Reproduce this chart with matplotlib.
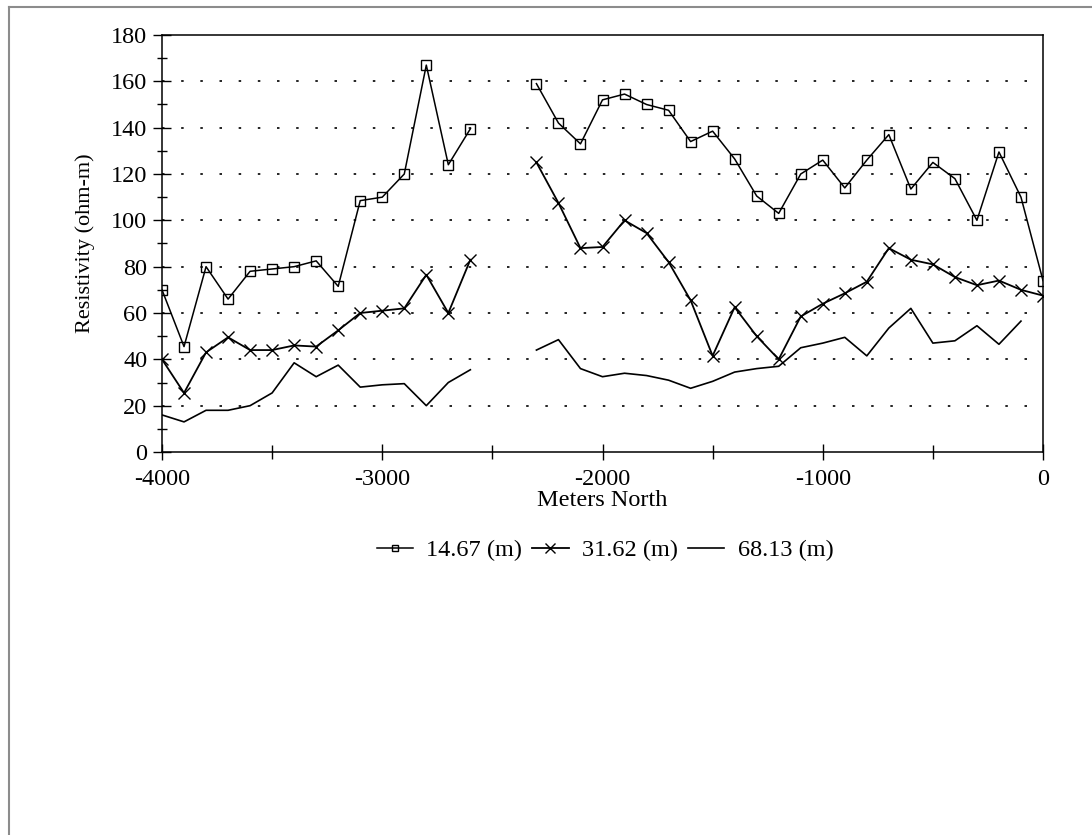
import numpy as np
import matplotlib.pyplot as plt
from matplotlib.lines import Line2D

# Meters North, every 100 m (no data at -2500 and -2400)
north = np.arange(-4000, 1, 100)

nan = np.nan
# 14.67 (m)
res_14 = [70, 45.5, 80, 66, 78, 79, 80, 82.5, 71.5, 108.5, 110, 120, 167, 124, 139.5,
          nan, nan,
          159, 142, 133, 152, 154.5, 150, 147.5, 134, 138.5, 126.5, 110.5, 103, 120, 126,
          114, 126, 137, 113.5, 125, 118, 100, 129.5, 110, 74]
# 31.62 (m)
res_31 = [40, 25.5, 43, 49.5, 44, 44, 46, 45.5, 52.5, 60, 61, 62, 76.5, 60, 83,
          nan, nan,
          125, 107.5, 88, 88.5, 100, 94.5, 82, 65.5, 41.5, 62.5, 50, 40, 58.5, 64,
          68.5, 73.5, 88, 83, 81, 75.5, 72, 74, 70, 67.5]
# 68.13 (m)
res_68 = [16, 13, 18, 18, 20, 25.5, 38.5, 32.5, 37.5, 28, 29, 29.5, 20, 30, 35.5,
          nan, nan,
          44, 48.5, 36, 32.5, 34, 33, 31, 27.5, 30.5, 34.5, 36, 37, 45, 47,
          49.5, 41.5, 53.5, 62, 47, 48, 54.5, 46.5, 56.5, nan]

labels = ["14.67 (m)", "31.62 (m)", "68.13 (m)"]

plt.rcParams['font.family'] = ['Liberation Serif', 'DejaVu Serif']
plt.rcParams['font.size'] = 17.5
plt.rcParams['axes.unicode_minus'] = False

W, H = 1092, 835
fig = plt.figure(figsize=(W/100, H/100), dpi=100)
# plot area in pixels: left 162, right 1043, top 35, bottom 452
ax = fig.add_axes([162/W, 1-452/H, (1043-162)/W, (452-35)/H])

ax.plot(north, res_14, color='black', lw=1.1, marker='s', ms=6.5, mfc='none', mec='black', mew=1.0, label=labels[0])
ax.plot(north, res_31, color='black', lw=1.3, marker='x', ms=9, mew=1.0, label=labels[1])
ax.plot(north, res_68, color='black', lw=1.2, label=labels[2])

ax.set_xlim(-4000, 0)
ax.set_ylim(0, 180)
ax.set_xticks(np.arange(-4000, 1, 1000))
ax.set_xticks(np.arange(-3500, 0, 1000), minor=True)
ax.set_yticks(np.arange(0, 181, 20))
ax.set_yticks(np.arange(10, 180, 20), minor=True)
ax.tick_params(axis='y', which='major', direction='inout', length=13, width=1.0, pad=4)
ax.tick_params(axis='y', which='minor', direction='inout', length=7, width=1.0)
ax.tick_params(axis='x', which='major', direction='inout', length=11, width=1.0, pad=6.5)
ax.tick_params(axis='x', which='minor', direction='inout', length=10, width=1.0)

# dotted gridlines
for y in range(20, 180, 20):
    ax.axhline(y, color='black', lw=1.2, ls=(0, (1.5, 10)), zorder=0)

for s in ax.spines.values():
    s.set_linewidth(1.1)

ax.set_ylabel("Resistivity (ohm-m)", fontsize=16)
ax.yaxis.label.set_va('center')
ax.yaxis.set_label_coords((85-162)/(1043-162), 0.5)
ax.set_xlabel("Meters North", labelpad=0)

fig.legend(loc='center', bbox_to_anchor=(605/W, 1-550/H), ncol=3, frameon=False,
           handlelength=1.5, handletextpad=0.55, columnspacing=0.4, markerscale=0.75)

# outer page border (top and left)
fig.add_artist(Line2D([9/W, 9/W], [0, 1-7/H], color='#8c8c8c', lw=1.5))
fig.add_artist(Line2D([9/W, 1], [1-7/H, 1-7/H], color='#8c8c8c', lw=1.5))

fig.savefig("out.png", dpi=100)
